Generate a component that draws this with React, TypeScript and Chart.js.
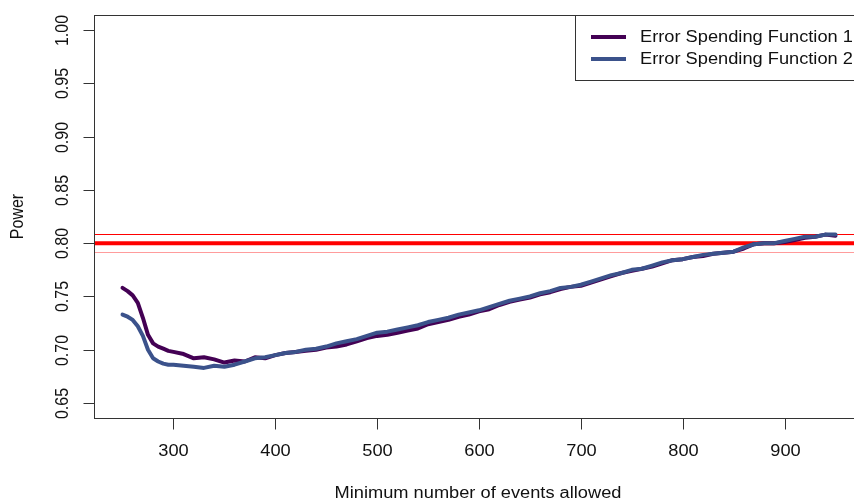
import React, { useEffect, useRef } from "react";
import { Chart, registerables } from "chart.js";

Chart.register(...registerables);

const xValues = [
  250, 255, 260, 265, 270, 275, 280, 285, 290, 295, 300, 310, 320, 330, 340,
  350, 360, 370, 380, 390, 400, 410, 420, 430, 440, 450, 460, 470, 480, 490,
  500, 510, 520, 530, 540, 550, 560, 570, 580, 590, 600, 610, 620, 630, 640,
  650, 660, 670, 680, 690, 700, 710, 720, 730, 740, 750, 760, 770, 780, 790,
  800, 810, 820, 830, 840, 850, 860, 870, 880, 890, 900, 910, 920, 930, 940,
  950,
];

const series1 = [
  0.758, 0.755, 0.751, 0.744, 0.73, 0.714, 0.706, 0.703, 0.701, 0.699, 0.698,
  0.696, 0.692, 0.693, 0.691, 0.688, 0.69, 0.689, 0.693, 0.692, 0.695, 0.697,
  0.698, 0.699, 0.7, 0.702, 0.703, 0.705, 0.708, 0.711, 0.713, 0.714, 0.716,
  0.718, 0.72, 0.724, 0.726, 0.728, 0.731, 0.733, 0.736, 0.738, 0.742, 0.745,
  0.747, 0.749, 0.752, 0.754, 0.757, 0.759, 0.76, 0.763, 0.766, 0.769, 0.772,
  0.774, 0.776, 0.778, 0.781, 0.784, 0.785, 0.787, 0.788, 0.79, 0.791, 0.792,
  0.795, 0.799, 0.8, 0.8, 0.801, 0.803, 0.805, 0.806, 0.808, 0.807,
];

const series2 = [
  0.733, 0.731, 0.728, 0.722, 0.713, 0.7, 0.692, 0.689, 0.687, 0.686, 0.686,
  0.685, 0.684, 0.683, 0.685, 0.684, 0.686, 0.689, 0.692, 0.693, 0.695, 0.697,
  0.698, 0.7, 0.701, 0.703, 0.706, 0.708, 0.71, 0.713, 0.716, 0.717, 0.719,
  0.721, 0.723, 0.726, 0.728, 0.73, 0.733, 0.735, 0.737, 0.74, 0.743, 0.746,
  0.748, 0.75, 0.753, 0.755, 0.758, 0.759, 0.761, 0.764, 0.767, 0.77, 0.772,
  0.775, 0.776, 0.779, 0.782, 0.784, 0.785, 0.787, 0.789, 0.79, 0.791, 0.792,
  0.796, 0.799, 0.8, 0.8, 0.802, 0.804, 0.806, 0.806, 0.808, 0.808,
];

const seriesNames = ["Error Spending Function 1", "Error Spending Function 2"];
const seriesColors = ["#440154", "#3B528B"];

const xTicks = [300, 400, 500, 600, 700, 800, 900];
const yTicks = [0.65, 0.7, 0.75, 0.8, 0.85, 0.9, 0.95, 1.0];
const yTickLabels = ["0.65", "0.70", "0.75", "0.80", "0.85", "0.90", "0.95", "1.00"];

const refLines = [0.8, 0.8084, 0.7916];

const FONT = "16px 'Liberation Sans', Arial, sans-serif";
const SX = 1.14; // horizontal stretch of the reference's text

function hText(ctx: any, s: string, x: number, y: number, align: string) {
  ctx.save();
  ctx.translate(x, y);
  ctx.scale(SX, 1);
  ctx.textAlign = align;
  ctx.fillText(s, 0, 0);
  ctx.restore();
}

function vText(ctx: any, s: string, x: number, y: number) {
  ctx.save();
  ctx.translate(x, y);
  ctx.scale(SX, 1);
  ctx.rotate(-Math.PI / 2);
  ctx.textAlign = "center";
  ctx.fillText(s, 0, 0);
  ctx.restore();
}

const rPlugin = {
  id: "rstyle",
  beforeDatasetsDraw(chart: any) {
    const { ctx, chartArea, scales } = chart;
    const y = scales.y;
    ctx.save();
    ctx.strokeStyle = "#ff0000";
    ctx.lineWidth = 4;
    let py = y.getPixelForValue(refLines[0]);
    ctx.beginPath();
    ctx.moveTo(chartArea.left, py);
    ctx.lineTo(chartArea.right, py);
    ctx.stroke();
    ctx.lineWidth = 1;
    py = Math.round(y.getPixelForValue(refLines[1])) + 0.5;
    ctx.beginPath();
    ctx.moveTo(chartArea.left, py);
    ctx.lineTo(chartArea.right, py);
    ctx.stroke();
    ctx.strokeStyle = "#ff9c9c";
    py = Math.round(y.getPixelForValue(refLines[2])) + 0.5;
    ctx.beginPath();
    ctx.moveTo(chartArea.left, py);
    ctx.lineTo(chartArea.right, py);
    ctx.stroke();
    ctx.restore();
  },
  afterDraw(chart: any) {
    const { ctx, chartArea, scales } = chart;
    const x = scales.x;
    const y = scales.y;
    const L = Math.round(chartArea.left) + 0.5;
    const T = Math.round(chartArea.top) + 0.5;
    const R = Math.round(chartArea.right) + 0.5;
    const B = Math.round(chartArea.bottom) + 0.5;
    ctx.save();
    ctx.strokeStyle = "#333";
    ctx.lineWidth = 1;
    ctx.strokeRect(L, T, R - L, B - T);
    ctx.fillStyle = "#111";
    ctx.font = FONT;
    ctx.textBaseline = "middle";
    xTicks.forEach((v) => {
      const px = Math.round(x.getPixelForValue(v)) + 0.5;
      ctx.beginPath();
      ctx.moveTo(px, B);
      ctx.lineTo(px, B + 11);
      ctx.stroke();
      hText(ctx, String(v), px, 452, "center");
    });
    yTicks.forEach((v, i) => {
      const py = Math.round(y.getPixelForValue(v)) + 0.5;
      ctx.beginPath();
      ctx.moveTo(L, py);
      ctx.lineTo(L - 11, py);
      ctx.stroke();
      vText(ctx, yTickLabels[i], 63, py);
    });
    hText(ctx, "Minimum number of events allowed", 478, 494, "center");
    vText(ctx, "Power", 18, (chartArea.top + chartArea.bottom) / 2);
    // legend
    const lx = 575.5;
    const ly = 15.5;
    ctx.fillStyle = "#fff";
    ctx.fillRect(lx, ly, 400, 65);
    ctx.strokeStyle = "#333";
    ctx.lineWidth = 1;
    ctx.strokeRect(lx, ly, 400, 65);
    seriesNames.forEach((name, i) => {
      const ry = 37 + i * 22;
      ctx.strokeStyle = seriesColors[i];
      ctx.lineWidth = 4;
      ctx.beginPath();
      ctx.moveTo(591, ry);
      ctx.lineTo(626, ry);
      ctx.stroke();
      ctx.fillStyle = "#111";
      hText(ctx, name, 640, ry + 1, "left");
    });
    ctx.restore();
  },
};

export default function App() {
  const ref = useRef<HTMLCanvasElement | null>(null);
  useEffect(() => {
    if (!ref.current) return;
    const chart = new Chart(ref.current, {
      type: "line",
      data: {
        datasets: [series1, series2].map((s, i) => ({
          label: seriesNames[i],
          data: s.map((v, j) => ({ x: xValues[j], y: v })),
          borderColor: seriesColors[i],
          backgroundColor: seriesColors[i],
          borderWidth: 4,
          pointRadius: 0,
          tension: 0,
          borderCapStyle: "round",
          borderJoinStyle: "round",
          order: 1 - i,
        })),
      },
      options: {
        animation: false,
        responsive: false,
        devicePixelRatio: 1,
        layout: { padding: { left: 94, top: 15, right: 16, bottom: 85 } },
        plugins: { legend: { display: false }, tooltip: { enabled: false } },
        scales: {
          x: { type: "linear", min: 222, max: 978, display: false },
          y: { type: "linear", min: 0.636, max: 1.014, display: false },
        },
      },
      plugins: [rPlugin],
    } as any);
    return () => chart.destroy();
  }, []);
  return (
    <div
      style={{
        position: "absolute",
        left: 0,
        top: 0,
        width: 854,
        height: 503,
        overflow: "hidden",
        background: "#fff",
      }}
    >
      <canvas ref={ref} width={880} height={503} style={{ width: 880, height: 503, display: "block" }} />
    </div>
  );
}
